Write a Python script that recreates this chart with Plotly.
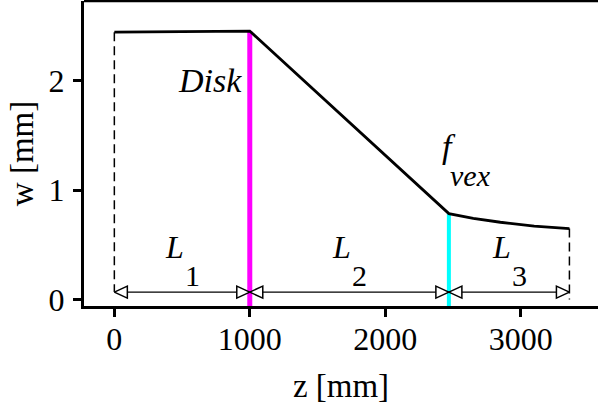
import plotly.graph_objects as go

# Deflection profile w(z) of the shaft
z_profile = [0, 1000, 2470, 2650, 2850, 3100, 3360]
w_profile = [2.445, 2.455, 0.785, 0.742, 0.706, 0.670, 0.648]

# Section boundaries: start, disk, f_vex, end
z_bounds = [0, 1000, 2470, 3360]
seg_names = ["1", "2", "3"]
w_dim = 0.067          # height of the dimension arrows
w_bottom = -0.06       # bottom of the axis range

x_ticks = [0, 1000, 2000, 3000]
y_ticks = [0, 1, 2]

FONT = "Liberation Serif"
fig = go.Figure()

# dashed limits at both ends of the shaft
fig.add_trace(go.Scatter(x=[z_bounds[0], z_bounds[0]], y=[w_profile[0], w_dim],
                         mode="lines", line=dict(color="black", width=1.5, dash="9px,5px"),
                         hoverinfo="skip"))
fig.add_trace(go.Scatter(x=[z_bounds[-1], z_bounds[-1]], y=[w_profile[-1], 0],
                         mode="lines", line=dict(color="black", width=1.5, dash="9px,5px"),
                         hoverinfo="skip"))

# disk and f_vex markers
fig.add_trace(go.Scatter(x=[z_bounds[1], z_bounds[1]], y=[w_profile[1], w_bottom],
                         mode="lines", line=dict(color="#ff00ff", width=5), hoverinfo="skip"))
fig.add_trace(go.Scatter(x=[z_bounds[2], z_bounds[2]], y=[w_profile[2], w_bottom],
                         mode="lines", line=dict(color="#00ffff", width=4), hoverinfo="skip"))

# deflection curve
fig.add_trace(go.Scatter(x=z_profile, y=w_profile, mode="lines",
                         line=dict(color="black", width=2.8), hoverinfo="skip"))

# dimension line
fig.add_trace(go.Scatter(x=[z_bounds[0], z_bounds[-1]], y=[w_dim, w_dim], mode="lines",
                         line=dict(color="black", width=1.2), hoverinfo="skip"))

# open triangular arrowheads at both ends of every section
dz, dh = 96, 0.055
for a, b in zip(z_bounds[:-1], z_bounds[1:]):
    for tip, base in ((a, a + dz), (b, b - dz)):
        fig.add_trace(go.Scatter(x=[tip, base, base, tip], y=[w_dim, w_dim + dh, w_dim - dh, w_dim],
                                 mode="lines", fill="toself", fillcolor="white",
                                 line=dict(color="black", width=1.5), hoverinfo="skip"))

ann_font = dict(family=FONT, size=32, color="black")
for a, b, n in zip(z_bounds[:-1], z_bounds[1:], seg_names):
    c = (a + b) / 2
    fig.add_annotation(x=c, y=0.48, text="<i>L</i>", showarrow=False, xshift=-8, font=ann_font)
    fig.add_annotation(x=c, y=0.215, text=n, showarrow=False, xshift=10,
                       font=dict(family=FONT, size=30, color="black"))

fig.add_annotation(x=z_bounds[1], y=2.0, text="<i>Disk</i>", showarrow=False,
                   xanchor="right", xshift=-6, font=dict(family=FONT, size=34, color="black"))
fig.add_annotation(x=z_bounds[2], y=1.40, text="<i>f</i>", showarrow=False, xshift=0,
                   font=dict(family=FONT, size=34, color="black"))
fig.add_annotation(x=z_bounds[2], y=1.13, text="<i>vex</i>", showarrow=False, xshift=22,
                   font=dict(family=FONT, size=30, color="black"))

# top frame line
fig.add_shape(type="line", xref="paper", yref="paper", x0=0, x1=1, y0=1, y1=1,
              line=dict(color="black", width=2.5))

fig.update_layout(
    width=598, height=406, showlegend=False,
    margin=dict(l=84, r=0, t=1, b=100),
    plot_bgcolor="white", paper_bgcolor="white",
    font=dict(family=FONT, size=32, color="black"),
)
fig.update_xaxes(range=[-224, 3571], tickvals=x_ticks, showgrid=False, zeroline=False,
                 showline=True, linecolor="black", linewidth=3,
                 ticks="outside", ticklen=8, tickwidth=2.5, tickcolor="black",
                 ticklabelstandoff=-5,
                 tickfont=dict(family=FONT, size=32, color="black"),
                 title=dict(text="z [mm]", standoff=18, font=dict(family=FONT, size=33, color="black")),
                 automargin=False)
fig.update_yaxes(range=[w_bottom, 2.73], tickvals=y_ticks, showgrid=False, zeroline=False,
                 showline=True, linecolor="black", linewidth=3,
                 ticks="outside", ticklen=8, tickwidth=2.5, tickcolor="black",
                 ticklabelstandoff=2,
                 tickfont=dict(family=FONT, size=32, color="black"),
                 title=dict(text="w [mm]", standoff=6, font=dict(family=FONT, size=33, color="black")),
                 automargin=False)

fig.write_html("out.html")
